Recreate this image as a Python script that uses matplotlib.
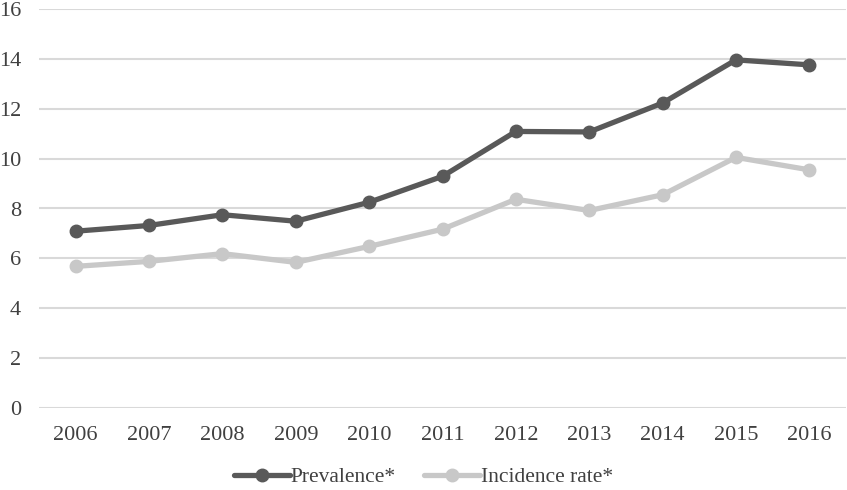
import matplotlib
matplotlib.use("Agg")
import matplotlib.pyplot as plt

years = ["2006", "2007", "2008", "2009", "2010", "2011", "2012", "2013", "2014", "2015", "2016"]
prevalence = [7.09, 7.32, 7.75, 7.49, 8.25, 9.29, 11.09, 11.07, 12.23, 13.96, 13.76]
incidence = [5.68, 5.88, 6.19, 5.84, 6.48, 7.17, 8.37, 7.92, 8.55, 10.05, 9.55]
yticks = [0, 2, 4, 6, 8, 10, 12, 14, 16]

plt.rcParams['font.family'] = ['Liberation Serif', 'DejaVu Serif']

fig = plt.figure(figsize=(8.47, 4.90), dpi=100)
ax = fig.add_axes([39/847, 1 - 408/490, (846-39)/847, (408-9)/490])

x = list(range(len(years)))
ax.plot(x, prevalence, color='#595959', lw=3.8, marker='o', ms=9, label='Prevalence*', solid_capstyle='round', zorder=3)
ax.plot(x, incidence, color='#C8C8C8', lw=3.8, marker='o', ms=9, label='Incidence rate*', solid_capstyle='round', zorder=3)

ax.set_xlim(-0.5, len(years) - 0.5)
ax.set_ylim(0, 16)
ax.set_yticks(yticks)
ax.set_yticklabels([str(v) for v in yticks])
ax.set_xticks(x)
ax.set_xticklabels(years)
ax.yaxis.grid(True, color='#D9D9D9', lw=1.5)
ax.set_axisbelow(True)
for s in ax.spines.values():
    s.set_visible(False)
ax.tick_params(axis='both', length=0, labelsize=16, colors='#595959', labelcolor='#404040')
ax.tick_params(axis='y', pad=13)
ax.tick_params(axis='x', pad=13)

leg = fig.legend(loc='center', bbox_to_anchor=(0.5, 1 - 477/490), ncol=2, frameon=False,
                 fontsize=15.5, handlelength=2.6, columnspacing=1.3, handletextpad=0.05,
                 borderaxespad=0, borderpad=0)
for t in leg.get_texts():
    t.set_color('#404040')

fig.savefig('out.png', dpi=100)
